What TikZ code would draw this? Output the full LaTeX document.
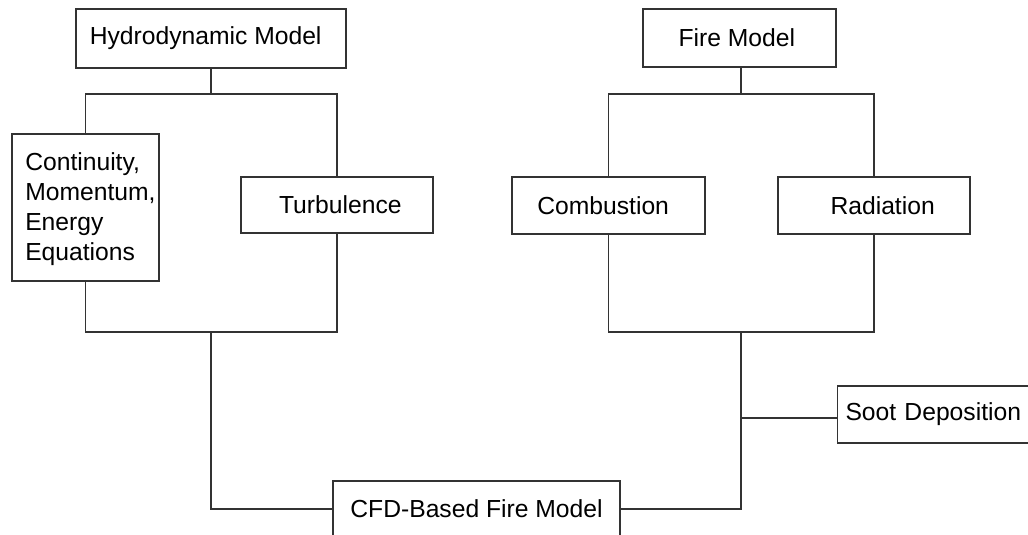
\documentclass[tikz,border=0pt]{standalone}
\usepackage{fontspec}
\setmainfont{Liberation Sans}
\begin{document}
\begin{tikzpicture}[x=0.75pt,y=-0.75pt,
  box/.style={draw=black!80, line width=0.8pt, fill=white, inner sep=0pt,
    font=\fontsize{18.5pt}{22.5pt}\selectfont},
  conn/.style={draw=black!80, line width=0.8pt}]
\useasboundingbox (0,0) rectangle (1028,535);
\clip (0,0) rectangle (1028,535);
% boxes
\node[box, minimum width=202.5pt, minimum height=44.25pt] (h) at (211,38.5) {\hspace*{-8pt}Hydrodynamic Model};
\node[box, minimum width=110.25pt, minimum height=110.25pt] (c) at (85.5,207.5) {};
\node[anchor=west, align=left, inner sep=0pt, font=\fontsize{18.5pt}{22.5pt}\selectfont] (ct) at (25,209) {Continuity,\\Momentum,\\Energy\\Equations};
\node[box, minimum width=144pt, minimum height=42pt] (t) at (337,205) {\hspace*{5pt}Turbulence};
\node[box, minimum width=144.75pt, minimum height=43.5pt] (f) at (739.5,38) {\hspace*{-4pt}Fire Model};
\node[box, minimum width=144.75pt, minimum height=42.75pt] (cb) at (608.5,205.5) {\hspace*{-8pt}Combustion};
\node[box, minimum width=144pt, minimum height=42.75pt] (r) at (874,205.5) {\hspace*{13pt}Radiation};
\node[box, anchor=west, minimum width=152.25pt, minimum height=42.75pt, text width=152.25pt, align=left] (s) at (837,414.5) {\hspace*{6pt}Soot Deposition};
\node[box, minimum width=215.25pt, minimum height=42pt] (cfd) at (476.5,509) {CFD-Based Fire Model};
% junctions
\coordinate (hj) at (211,94);
\coordinate (hb) at (211,332);
\coordinate (fj) at (741,94);
\coordinate (fb) at (741,332);
\coordinate (sj) at (741,418);
% connectors
\draw[conn] (h.south) -- (hj);
\draw[conn] (c.north) |- (hj) -| (t.north);
\draw[conn] (c.south) |- (hb) -| (t.south);
\draw[conn] (hb) |- (cfd.west);
\draw[conn] (f.south -| fj) -- (fj);
\draw[conn] (cb.north) |- (fj) -| (r.north);
\draw[conn] (cb.south) |- (fb) -| (r.south);
\draw[conn] (fb) |- (cfd.east);
\draw[conn] (sj) -- (sj -| s.west);
\end{tikzpicture}
\end{document}
